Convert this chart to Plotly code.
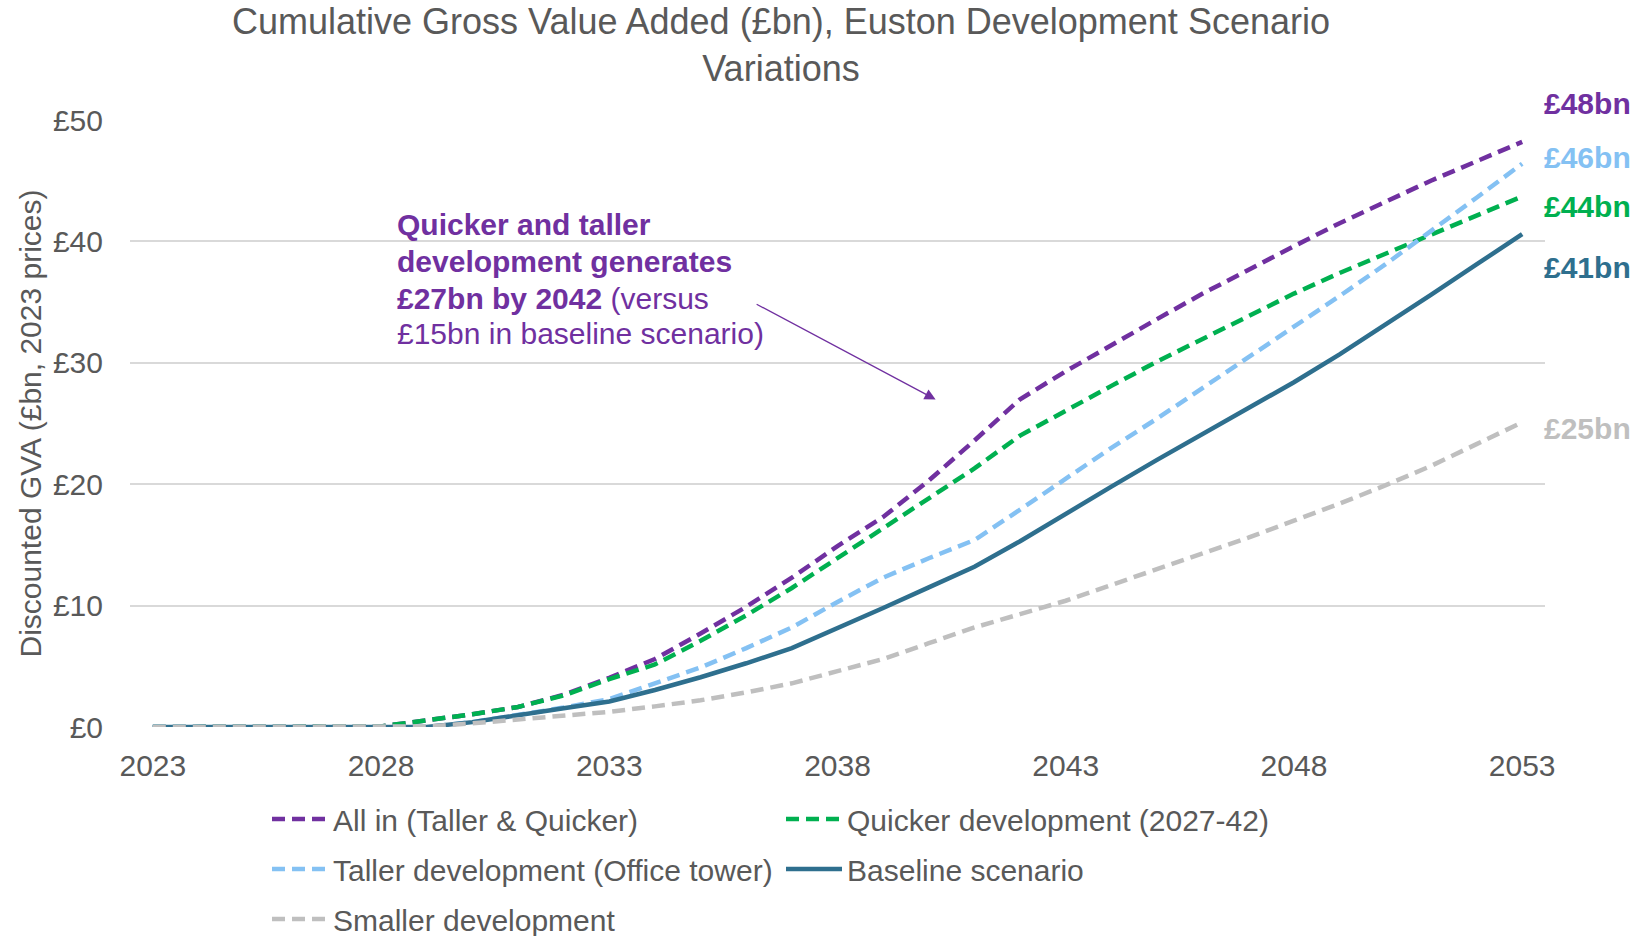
import plotly.graph_objects as go

# ---------------- data ----------------
years = list(range(2023, 2054))

all_in = [0, 0, 0, 0, 0, 0.05, 0.55, 1.05, 1.65, 2.65, 4.05, 5.6, 7.7, 9.9, 12.3,
          14.9, 17.3, 20.3, 23.6, 27.0, 29.3, 31.5, 33.6, 35.7, 37.7, 39.6, 41.5,
          43.3, 45.0, 46.6, 48.2]
quicker = [0, 0, 0, 0, 0, 0.05, 0.55, 1.05, 1.65, 2.6, 3.95, 5.15, 7.1, 9.2, 11.45,
           13.9, 16.3, 18.8, 21.3, 24.0, 26.1, 28.1, 30.1, 32.0, 33.9, 35.7, 37.4,
           39.0, 40.6, 42.2, 43.7]
taller = [0, 0, 0, 0, 0, 0, 0, 0.4, 1.0, 1.6, 2.3, 3.6, 4.9, 6.5, 8.2,
          10.3, 12.3, 13.9, 15.4, 17.9, 20.5, 23.0, 25.4, 27.9, 30.5, 33.0, 35.5,
          38.1, 40.8, 43.6, 46.4]
baseline = [0, 0, 0, 0, 0, 0, 0, 0.4, 1.0, 1.55, 2.1, 3.05, 4.1, 5.25, 6.5,
            8.1, 9.8, 11.5, 13.2, 15.3, 17.6, 19.8, 22.0, 24.1, 26.2, 28.4, 30.7,
            33.1, 35.6, 38.1, 40.6]
smaller = [0, 0, 0, 0, 0, 0, 0.05, 0.3, 0.6, 0.9, 1.25, 1.7, 2.2, 2.85, 3.6,
           4.6, 5.6, 6.9, 8.2, 9.3, 10.4, 11.7, 13.0, 14.3, 15.6, 17.0, 18.4,
           19.9, 21.5, 23.3, 25.1]

series_names = [
    "All in (Taller & Quicker)",
    "Quicker development (2027-42)",
    "Taller development (Office tower)",
    "Baseline scenario",
    "Smaller development",
]
series_values = [all_in, quicker, taller, baseline, smaller]

x_ticks = [2023, 2028, 2033, 2038, 2043, 2048, 2053]
y_ticks = [0, 10, 20, 30, 40, 50]
y_tick_labels = [f"£{v}" for v in y_ticks]

title_text = "Cumulative Gross Value Added (£bn), Euston Development Scenario<br>Variations"
y_title = "Discounted GVA (£bn, 2023 prices)"
callout_lines = [
    "<b>Quicker and taller</b>",
    "<b>development generates</b>",
    "<b>£27bn by 2042</b> (versus",
    "£15bn in baseline scenario)",
]

# ---------------- styles ----------------
FONT = "Liberation Sans, Arial, Helvetica, sans-serif"
TEXT = "#595959"
PURPLE = "#7030A0"
DASH = "13px,7px"
styles = [
    dict(color=PURPLE, dash=DASH, legend="legend", label_dy=38.7),
    dict(color="#00B050", dash=DASH, legend="legend", label_dy=-10.4),
    dict(color="#84C1F3", dash=DASH, legend="legend2", label_dy=6.6),
    dict(color="#2E6F8E", dash="solid", legend="legend2", label_dy=-33.8),
    dict(color="#BFBFBF", dash=DASH, legend="legend3", label_dy=-6.0),
]

fig = go.Figure()
for name, vals, st in zip(series_names, series_values, styles):
    fig.add_trace(go.Scatter(
        x=years, y=vals, name=name, mode="lines",
        line=dict(color=st["color"], width=4.5, dash=st["dash"]),
        legend=st["legend"], hoverinfo="x+y+name",
    ))

annotations = []
# end-of-line value labels
for vals, st in zip(series_values, styles):
    annotations.append(dict(
        x=years[-1], y=vals[-1], xref="x", yref="y",
        text=f"<b>£{round(vals[-1])}bn</b>", showarrow=False,
        xanchor="left", yanchor="middle", xshift=20, yshift=st["label_dy"],
        font=dict(family=FONT, size=30, color=st["color"]),
    ))

# callout text
callout_y = [0.8276, 0.7669, 0.7066, 0.6476]
for line, yy in zip(callout_lines, callout_y):
    annotations.append(dict(
        x=0.1873, y=yy, xref="paper", yref="paper", text=line, showarrow=False,
        xanchor="left", yanchor="middle",
        font=dict(family=FONT, size=30, color=PURPLE),
    ))

# callout arrow
annotations.append(dict(
    x=2040.15, y=26.98, xref="x", yref="y", text="", showarrow=True,
    ax=-180.5, ay=-96, arrowhead=2, arrowsize=1.7, arrowwidth=1.3,
    arrowcolor=PURPLE, standoff=0,
))

legend_common = dict(
    orientation="h", xanchor="left", yanchor="middle",
    entrywidth=443, entrywidthmode="pixels", itemwidth=56,
    font=dict(family=FONT, size=30, color=TEXT),
    bgcolor="rgba(0,0,0,0)", borderwidth=0, traceorder="normal",
)
LEG_X = (267 - 130) / 1415

fig.update_layout(
    width=1646, height=936, autosize=False,
    margin=dict(l=130, r=101, t=120, b=209, pad=0, autoexpand=False),
    paper_bgcolor="white", plot_bgcolor="white",
    font=dict(family=FONT, size=30, color=TEXT),
    title=dict(text=title_text, x=781 / 1646, xanchor="center", xref="container",
               y=1 - 34 / 936, yanchor="top", yref="container",
               font=dict(family=FONT, size=36, color=TEXT)),
    xaxis=dict(range=[2022.5, 2053.5], tickvals=x_ticks, showgrid=False,
               zeroline=False, showline=False, ticks="", ticklabelstandoff=18,
               tickfont=dict(family=FONT, size=30, color=TEXT), fixedrange=True),
    yaxis=dict(range=[0, 50], tickvals=y_ticks, ticktext=y_tick_labels, showgrid=True,
               gridcolor="#D9D9D9", gridwidth=2, zeroline=False, showline=False,
               ticks="", ticklabelstandoff=26, automargin=False,
               tickfont=dict(family=FONT, size=30, color=TEXT),
               title=dict(text=y_title, standoff=2,
                          font=dict(family=FONT, size=30, color=TEXT)),
               fixedrange=True),
    showlegend=True,
    legend=dict(legend_common, x=LEG_X, y=-0.1516),
    legend2=dict(legend_common, x=LEG_X, y=-0.2340),
    legend3=dict(legend_common, x=LEG_X, y=-0.3164),
    annotations=annotations,
)

fig.write_html("out.html", config={"displayModeBar": False},
               post_script="document.body.style.margin='0';document.body.style.overflow='hidden';")
